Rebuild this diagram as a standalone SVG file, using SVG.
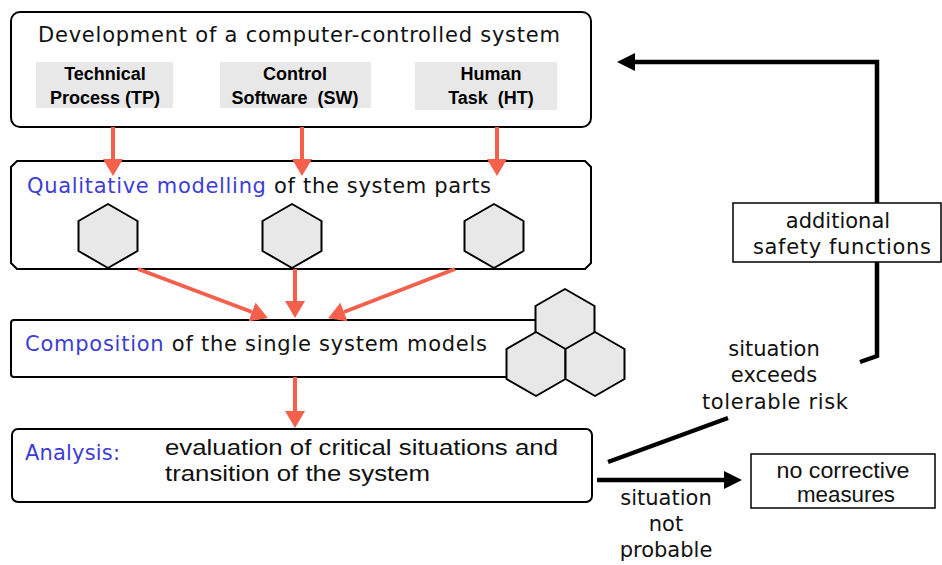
<svg xmlns="http://www.w3.org/2000/svg" width="942" height="565" viewBox="0 0 942 565">
<style>
.box{fill:#fff;stroke:#000;stroke-width:2}
.lbl{fill:#e8e8e8}
.hex{fill:#e8e8e8;stroke:#000;stroke-width:2;stroke-linejoin:round}
.t{font-family:"DejaVu Sans",Verdana,sans-serif;font-size:21px;fill:#111}
.b{font-family:"Liberation Sans",Arial,sans-serif;font-size:18px;font-weight:bold;fill:#000;text-anchor:middle}
.n{font-family:"Liberation Sans",Arial,sans-serif;font-size:22.5px;fill:#111}
.blue{fill:#3d3dd6}
.red{stroke:#f4604c;stroke-width:4;fill:none}
.blk{stroke:#000;stroke-width:4.5;fill:none}
.mid{text-anchor:middle}
</style>
<defs>
<marker id="ra" markerUnits="userSpaceOnUse" viewBox="0 0 17 20" refX="0" refY="10" markerWidth="17" markerHeight="20" orient="auto"><path d="M0,0 L17,10 L0,20 Z" fill="#f4604c"/></marker>
<marker id="ba" markerUnits="userSpaceOnUse" viewBox="0 0 18 18" refX="0" refY="9" markerWidth="18" markerHeight="18" orient="auto"><path d="M0,0 L18,9 L0,18 Z" fill="#000"/></marker>
<path id="hx" d="M0,-32 L29.5,-15 L29.5,15 L0,32 L-29.5,15 L-29.5,-15 Z"/>
</defs>

<g id="development">
<rect class="box" x="11" y="12" width="580" height="115" rx="9"/>
<text class="t mid" x="299" y="42" textLength="522">Development of a computer-controlled system</text>
</g>
<g id="tp">
<rect class="lbl" x="36" y="62" width="137" height="46"/>
<text class="b" x="105" y="80">Technical</text>
<text class="b" x="105" y="104">Process (TP)</text>
</g>
<g id="sw">
<rect class="lbl" x="220" y="62" width="151" height="46"/>
<text class="b" x="295" y="80">Control</text>
<text class="b" x="295" y="104" xml:space="preserve">Software  (SW)</text>
</g>
<g id="ht">
<rect class="lbl" x="415" y="62" width="142" height="48"/>
<text class="b" x="491" y="80">Human</text>
<text class="b" x="491" y="104" xml:space="preserve">Task  (HT)</text>
</g>

<g id="qualitative">
<path class="box" d="M17,161 H585 L591,167 V263 L585,269 H17 L11,263 V167 Z"/>
<text class="t" x="27" y="193" textLength="464"><tspan class="blue">Qualitative modelling</tspan> of the system parts</text>
<use href="#hx" class="hex" x="108" y="236"/>
<use href="#hx" class="hex" x="292" y="236"/>
<use href="#hx" class="hex" x="494" y="236"/>
</g>

<g id="composition">
<rect class="box" x="11" y="320" width="549" height="57" rx="3"/>
<text class="t" x="25" y="351" textLength="462"><tspan class="blue">Composition</tspan> of the single system models</text>
<use href="#hx" class="hex" x="565" y="321"/>
<use href="#hx" class="hex" x="536" y="364"/>
<use href="#hx" class="hex" x="595" y="364"/>
</g>

<g id="analysis">
<rect class="box" x="12" y="429" width="580" height="73" rx="6"/>
<text class="t blue" x="25" y="460" textLength="95">Analysis:</text>
<text class="n" x="165" y="455" textLength="393" lengthAdjust="spacingAndGlyphs">evaluation of critical situations and</text>
<text class="n" x="165" y="481" textLength="265" lengthAdjust="spacingAndGlyphs">transition of the system</text>
</g>

<g id="connectors">
<line class="red" x1="113" y1="127" x2="113" y2="159" marker-end="url(#ra)"/>
<line class="red" x1="302" y1="127" x2="302" y2="159" marker-end="url(#ra)"/>
<line class="red" x1="497" y1="127" x2="497" y2="159" marker-end="url(#ra)"/>
<line class="red" x1="138" y1="269" x2="252" y2="312" marker-end="url(#ra)"/>
<line class="red" x1="295" y1="269" x2="295" y2="301" marker-end="url(#ra)"/>
<line class="red" x1="455" y1="269" x2="344" y2="312" marker-end="url(#ra)"/>
<line class="red" x1="295" y1="377" x2="295" y2="411" marker-end="url(#ra)"/>
<line class="blk" x1="608" y1="462" x2="728" y2="418"/>
<polyline class="blk" points="860,362 877,356 877,62 635,62" marker-end="url(#ba)"/>
<line class="blk" x1="597" y1="480" x2="724" y2="480" marker-end="url(#ba)"/>
</g>

<g id="safety">
<rect x="733" y="203" width="208" height="59" fill="#fff" stroke="#000" stroke-width="1.5"/>
<text class="t mid" x="838" y="228">additional</text>
<text class="t mid" x="842" y="254" textLength="178">safety functions</text>
</g>

<g id="nocorrective">
<rect x="751" y="454" width="184" height="54" fill="#fff" stroke="#000" stroke-width="1.5"/>
<text class="n mid" x="843" y="478" textLength="133" lengthAdjust="spacingAndGlyphs">no corrective</text>
<text class="n mid" x="846" y="502" textLength="98" lengthAdjust="spacingAndGlyphs">measures</text>
</g>

<g id="labels">
<text class="t mid" x="774" y="356">situation</text>
<text class="t mid" x="774" y="382">exceeds</text>
<text class="t mid" x="775" y="409" textLength="146">tolerable risk</text>
<text class="t mid" x="666" y="505">situation</text>
<text class="t mid" x="666" y="531">not</text>
<text class="t mid" x="666" y="557">probable</text>
</g>
</svg>
